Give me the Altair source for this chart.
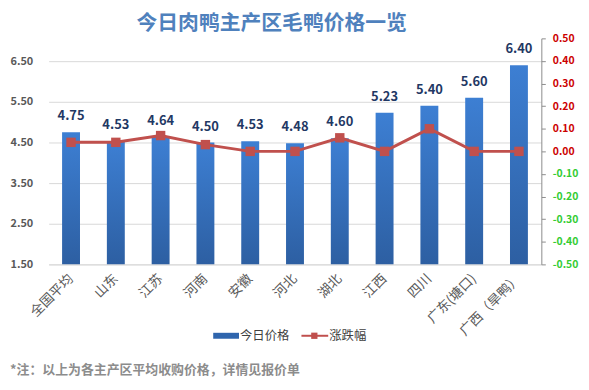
import altair as alt
import pandas as pd

regions = ["全国平均", "山东", "江苏", "河南", "安徽", "河北", "湖北", "江西", "四川", "广东(塘口)", "广西（旱鸭）"]
prices = [4.75, 4.53, 4.64, 4.50, 4.53, 4.48, 4.60, 5.23, 5.40, 5.60, 6.40]
changes = [0.04, 0.04, 0.07, 0.03, 0.00, 0.00, 0.06, 0.00, 0.10, 0.00, 0.00]
left_ticks = [1.5, 2.5, 3.5, 4.5, 5.5, 6.5]
right_ticks = [-0.5, -0.4, -0.3, -0.2, -0.1, 0.0, 0.1, 0.2, 0.3, 0.4, 0.5]
title_text = "今日肉鸭主产区毛鸭价格一览"
note_text = "*注：以上为各主产区平均收购价格，详情见报价单"
legend_labels = ["今日价格", "涨跌幅"]

df = pd.DataFrame({"region": regions, "price": prices, "change": changes})

FONT = "Noto Sans CJK SC"
W, H = 497, 228
LDOM = [1.5, 7.06]
RDOM = [-0.5, 0.5]

x_enc = alt.X("region:N", sort=regions, title=None,
              scale=alt.Scale(paddingInner=0.6, paddingOuter=0.3),
              axis=alt.Axis(labelAngle=-45, labelAlign="right", labelBaseline="middle",
                            labelFontSize=13.5, labelColor="#595959", labelFont=FONT,
                            labelPadding=12, ticks=False, domain=True,
                            domainColor="#D9D9D9", labelOverlap=False))
x_plain = alt.X("region:N", sort=regions)

grad = alt.Gradient(gradient="linear",
                    stops=[alt.GradientStop(color="#3D7FD3", offset=0),
                           alt.GradientStop(color="#2D5FA2", offset=1)],
                    x1=0, x2=0, y1=0, y2=1)

y_left = alt.Y("price:Q", title=None,
               scale=alt.Scale(domain=LDOM, nice=False, zero=False),
               axis=alt.Axis(values=left_ticks, format=".2f", labelFontSize=11,
                             labelFontWeight="bold", labelColor="#595959", labelFont=FONT,
                             domain=False, ticks=False, labelPadding=16,
                             grid=True, gridColor="#D9D9D9", gridWidth=1))

bars = alt.Chart(df).mark_bar(color=grad, clip=True).encode(
    x=x_enc, y=y_left, y2=alt.datum(1.5))

labels = alt.Chart(df).mark_text(dy=-16, fontSize=13, fontWeight="bold",
                                 color="#1F3864", font=FONT).encode(
    x=x_plain,
    y=alt.Y("price:Q", scale=alt.Scale(domain=LDOM, nice=False, zero=False), axis=None),
    text=alt.Text("price:Q", format=".2f"))

y_right = alt.Y("change:Q", title=None,
                scale=alt.Scale(domain=RDOM, nice=False),
                axis=alt.Axis(orient="right", values=right_ticks,
                              labelExpr="replace(format(datum.value, '.2f'), '\u2212', '-')",
                              labelFontSize=10.5, labelFontWeight="bold", labelFont=FONT,
                              labelColor={"condition": {"test": "datum.value < 0", "value": "#33CC33"},
                                          "value": "#CC0000"},
                              domain=True, domainColor="#8C8C8C", ticks=True, tickColor="#8C8C8C",
                              tickSize=4, grid=False, labelPadding=7))

line = alt.Chart(df).mark_line(color="#C0504D", strokeWidth=3).encode(x=x_plain, y=y_right)
points = alt.Chart(df).mark_square(color="#C0504D", size=90, opacity=1).encode(
    x=x_plain, y=alt.Y("change:Q", scale=alt.Scale(domain=RDOM, nice=False), axis=None))

title_df = pd.DataFrame({"t": [title_text]})
title = alt.Chart(title_df).mark_text(fontSize=21, fontWeight="bold", color="#4F81BD",
                                      font=FONT, align="center", baseline="middle").encode(
    text="t:N", x=alt.value(225), y=alt.value(-14))

note_df = pd.DataFrame({"t": [note_text]})
note = alt.Chart(note_df).mark_text(fontSize=13, fontWeight="bold", color="#8C8C8C",
                                    font=FONT, align="left", baseline="middle").encode(
    text="t:N", x=alt.value(-39), y=alt.value(335))

leg1_df = pd.DataFrame({"t": [legend_labels[0]]})
leg2_df = pd.DataFrame({"t": [legend_labels[1]]})
leg_rect = alt.Chart(leg1_df).mark_rect(color="#2F65AD").encode(
    x=alt.value(166), x2=alt.value(192), y=alt.value(297), y2=alt.value(303))
leg_t1 = alt.Chart(leg1_df).mark_text(fontSize=12.5, color="#404040", font=FONT,
                                      align="left", baseline="middle").encode(
    text="t:N", x=alt.value(193), y=alt.value(300))
leg_line = alt.Chart(leg2_df).mark_rule(color="#C0504D", strokeWidth=2).encode(
    x=alt.value(255), x2=alt.value(282), y=alt.value(300))
leg_pt = alt.Chart(leg2_df).mark_square(color="#C0504D", size=40, opacity=1).encode(
    x=alt.value(268), y=alt.value(300))
leg_t2 = alt.Chart(leg2_df).mark_text(fontSize=12.5, color="#404040", font=FONT,
                                      align="left", baseline="middle").encode(
    text="t:N", x=alt.value(283), y=alt.value(300))

chart = alt.layer(bars, labels, line, points, title, note,
                  leg_rect, leg_t1, leg_line, leg_pt, leg_t2).resolve_scale(
    y="independent").properties(
    width=W, height=H,
    autosize=alt.AutoSizeParams(type="none"),
    padding={"left": 41, "top": 29, "right": 40, "bottom": 117},
    background="white"
).configure_view(stroke=None)

chart.save("out.html", embed_options={"renderer": "svg", "actions": False})
